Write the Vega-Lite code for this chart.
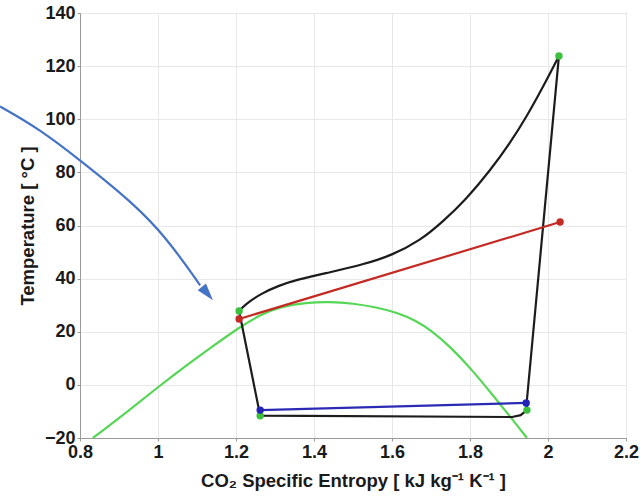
{
  "$schema": "https://vega.github.io/schema/vega-lite/v6.json",
  "width": 546,
  "height": 425,
  "autosize": "none",
  "padding": {"left": 80, "top": 13, "right": 16, "bottom": 59},
  "background": "white",
  "config": {
    "view": {"stroke": "#9a9a9a", "strokeWidth": 1},
    "font": "Liberation Sans",
    "axis": {
      "labelFont": "Liberation Sans",
      "labelFontWeight": "bold",
      "labelFontSize": 18,
      "labelColor": "#1a1a1a",
      "titleFont": "Liberation Sans",
      "titleFontWeight": "bold",
      "titleFontSize": 18.5,
      "titleColor": "#1a1a1a",
      "gridColor": "#e8e8e8",
      "gridWidth": 1,
      "domainColor": "#9a9a9a",
      "tickColor": "#9a9a9a",
      "tickSize": 3
    }
  },
  "datasets": {
    "curves": [
      {"series": "dome", "o": 1, "s": 0.833, "T": -20},
      {"series": "dome", "o": 2, "s": 0.92, "T": -10.3},
      {"series": "dome", "o": 3, "s": 1.0, "T": -0.8},
      {"series": "dome", "o": 4, "s": 1.07, "T": 7},
      {"series": "dome", "o": 5, "s": 1.14, "T": 14.5},
      {"series": "dome", "o": 6, "s": 1.21, "T": 21.8},
      {"series": "dome", "o": 7, "s": 1.26, "T": 26.2},
      {"series": "dome", "o": 8, "s": 1.313, "T": 29.4},
      {"series": "dome", "o": 9, "s": 1.38, "T": 31},
      {"series": "dome", "o": 10, "s": 1.44, "T": 31.3},
      {"series": "dome", "o": 11, "s": 1.5, "T": 30.7},
      {"series": "dome", "o": 12, "s": 1.56, "T": 29.2},
      {"series": "dome", "o": 13, "s": 1.613, "T": 27.2},
      {"series": "dome", "o": 14, "s": 1.66, "T": 24.3},
      {"series": "dome", "o": 15, "s": 1.70, "T": 20.6},
      {"series": "dome", "o": 16, "s": 1.75, "T": 14.3},
      {"series": "dome", "o": 17, "s": 1.808, "T": 5.2},
      {"series": "dome", "o": 18, "s": 1.859, "T": -4},
      {"series": "dome", "o": 19, "s": 1.91, "T": -13.2},
      {"series": "dome", "o": 20, "s": 1.946, "T": -20},

      {"series": "cycleTop", "o": 1, "s": 1.208, "T": 27.8},
      {"series": "cycleTop", "o": 2, "s": 1.225, "T": 30.5},
      {"series": "cycleTop", "o": 3, "s": 1.265, "T": 34.4},
      {"series": "cycleTop", "o": 4, "s": 1.31, "T": 37.4},
      {"series": "cycleTop", "o": 5, "s": 1.356, "T": 39.6},
      {"series": "cycleTop", "o": 6, "s": 1.441, "T": 42.4},
      {"series": "cycleTop", "o": 7, "s": 1.526, "T": 45.3},
      {"series": "cycleTop", "o": 8, "s": 1.6, "T": 48.8},
      {"series": "cycleTop", "o": 9, "s": 1.672, "T": 54.3},
      {"series": "cycleTop", "o": 10, "s": 1.731, "T": 61.5},
      {"series": "cycleTop", "o": 11, "s": 1.792, "T": 70.2},
      {"series": "cycleTop", "o": 12, "s": 1.851, "T": 80.6},
      {"series": "cycleTop", "o": 13, "s": 1.903, "T": 91.1},
      {"series": "cycleTop", "o": 14, "s": 1.946, "T": 101.2},
      {"series": "cycleTop", "o": 15, "s": 1.987, "T": 112.1},
      {"series": "cycleTop", "o": 16, "s": 2.028, "T": 123.8},

      {"series": "cycleRest", "o": 1, "s": 2.028, "T": 123.8},
      {"series": "cycleRest", "o": 2, "s": 1.945, "T": -7.2},
      {"series": "cycleRest", "o": 3, "s": 1.946, "T": -9.5},
      {"series": "cycleRest", "o": 4, "s": 1.93, "T": -11.4},
      {"series": "cycleRest", "o": 5, "s": 1.908, "T": -12.1},
      {"series": "cycleRest", "o": 6, "s": 1.262, "T": -11.6},
      {"series": "cycleRest", "o": 7, "s": 1.208, "T": 27.8},

      {"series": "red", "o": 1, "s": 1.208, "T": 24.8},
      {"series": "red", "o": 2, "s": 2.031, "T": 61.3},

      {"series": "blue", "o": 1, "s": 1.262, "T": -9.5},
      {"series": "blue", "o": 2, "s": 1.944, "T": -6.8}
    ],
    "arrow": [
      {"o": 1, "s": 0.595, "T": 104.8},
      {"o": 2, "s": 0.697, "T": 96.2},
      {"o": 3, "s": 0.8, "T": 84.6},
      {"o": 4, "s": 0.936, "T": 68.5},
      {"o": 5, "s": 1.023, "T": 55.2},
      {"o": 6, "s": 1.108, "T": 37.5}
    ],
    "head": [
      {"s": 1.1267, "T": 34.4}
    ],
    "points": [
      {"kind": "green", "s": 1.208, "T": 27.8},
      {"kind": "green", "s": 2.028, "T": 123.8},
      {"kind": "green", "s": 1.262, "T": -11.6},
      {"kind": "green", "s": 1.946, "T": -9.5},
      {"kind": "red", "s": 1.208, "T": 24.8},
      {"kind": "red", "s": 2.031, "T": 61.3},
      {"kind": "blue", "s": 1.262, "T": -9.5},
      {"kind": "blue", "s": 1.944, "T": -6.8}
    ]
  },
  "layer": [
    {
      "data": {"name": "curves"},
      "transform": [{"filter": "datum.series === 'dome' || datum.series === 'cycleTop'"}],
      "mark": {"type": "line", "strokeWidth": 2.2, "clip": true, "interpolate": "basis"},
      "encoding": {
        "x": {
          "field": "s", "type": "quantitative",
          "scale": {"domain": [0.8, 2.2], "nice": false, "zero": false},
          "axis": {
            "values": [0.8, 1, 1.2, 1.4, 1.6, 1.8, 2, 2.2],
            "labelExpr": "datum.value === 1 ? '1' : datum.value === 2 ? '2' : datum.label",
            "title": "CO₂ Specific Entropy [ kJ kg⁻¹ K⁻¹ ]",
            "titleX": 273, "titleY": 42, "titleBaseline": "middle",
            "labelPadding": 2,
            "labelFlush": false
          }
        },
        "y": {
          "field": "T", "type": "quantitative",
          "scale": {"domain": [-20, 140], "nice": false, "zero": false},
          "axis": {
            "values": [-20, 0, 20, 40, 60, 80, 100, 120, 140],
            "title": "Temperature [ °C ]",
            "titleX": -53, "titleY": 212.5, "titleBaseline": "middle",
            "titleAngle": -90,
            "labelPadding": 2,
            "labelFlush": false
          }
        },
        "color": {
          "field": "series", "type": "nominal",
          "scale": {"domain": ["dome", "cycleTop"], "range": ["#55d655", "#1c1c1c"]},
          "legend": null
        },
        "detail": {"field": "series"},
        "order": {"field": "o", "type": "quantitative"}
      }
    },
    {
      "data": {"name": "curves"},
      "transform": [{"filter": "datum.series !== 'dome' && datum.series !== 'cycleTop'"}],
      "mark": {"type": "line", "strokeWidth": 2.2, "clip": true, "interpolate": "linear"},
      "encoding": {
        "x": {"field": "s", "type": "quantitative"},
        "y": {"field": "T", "type": "quantitative"},
        "color": {
          "field": "series", "type": "nominal",
          "scale": {"domain": ["cycleRest", "red", "blue"], "range": ["#1c1c1c", "#c42a24", "#2a2ab5"]},
          "legend": null
        },
        "detail": {"field": "series"},
        "order": {"field": "o", "type": "quantitative"}
      }
    },
    {
      "data": {"name": "points"},
      "mark": {"type": "point", "filled": true, "size": 55, "opacity": 1},
      "encoding": {
        "x": {"field": "s", "type": "quantitative"},
        "y": {"field": "T", "type": "quantitative"},
        "color": {
          "field": "kind", "type": "nominal",
          "scale": {"domain": ["green", "red", "blue"], "range": ["#3cbf3c", "#c42a24", "#2323b8"]},
          "legend": null
        }
      }
    },
    {
      "data": {"name": "arrow"},
      "mark": {"type": "line", "strokeWidth": 2.2, "color": "#4472c4", "interpolate": "basis", "clip": false},
      "encoding": {
        "x": {"field": "s", "type": "quantitative"},
        "y": {"field": "T", "type": "quantitative"},
        "order": {"field": "o", "type": "quantitative"}
      }
    },
    {
      "data": {"name": "head"},
      "mark": {"type": "point", "filled": true, "opacity": 1, "color": "#4472c4", "size": 300, "angle": 140, "shape": "M0,-1L0.62,1L-0.62,1Z", "clip": false},
      "encoding": {
        "x": {"field": "s", "type": "quantitative"},
        "y": {"field": "T", "type": "quantitative"}
      }
    }
  ],
  "resolve": {"scale": {"color": "independent"}}
}
